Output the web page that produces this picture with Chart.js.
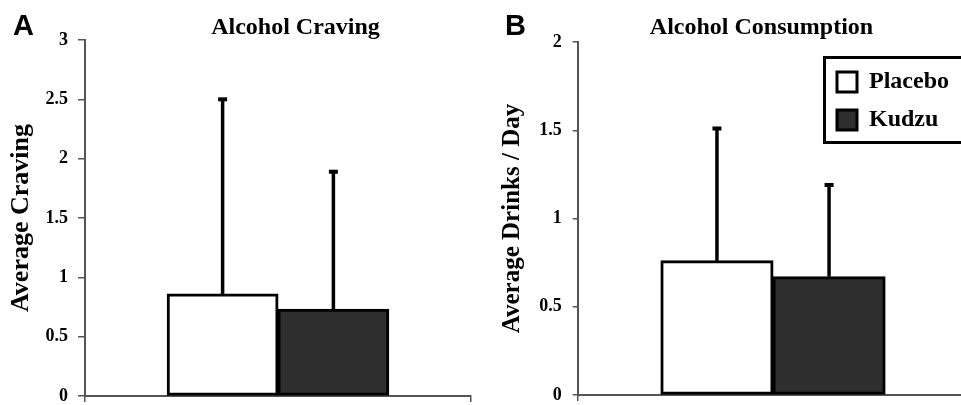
<!DOCTYPE html>
<html>
<head>
<meta charset="utf-8">
<script src="https://cdn.jsdelivr.net/npm/chart.js"></script>
<style>
  html, body { margin: 0; padding: 0; background: #fff; overflow: hidden; }
  body { width: 961px; height: 405px; position: relative; }
  canvas { position: absolute; top: 0; }
  #craving { left: 0; }
  #drinks { left: 480px; }
</style>
</head>
<body>
<canvas id="craving" width="591" height="405"></canvas>
<canvas id="drinks" width="563" height="405"></canvas>
<script>
// values (mean and upper SD bar)
const categories = [''];
const groups = ['Placebo', 'Kudzu'];
const groupFill = ['#ffffff', '#2e2e2e'];

const cravingMean = [0.86, 0.73];
const cravingSD = [1.64, 1.16];
const cravingTicks = [0, 0.5, 1, 1.5, 2, 2.5, 3];

const drinksMean = [0.76, 0.67];
const drinksSD = [0.75, 0.52];
const drinksTicks = [0, 0.5, 1, 1.5, 2];

const serif = '"Liberation Serif", "Times New Roman", serif';
const axisGray = '#555';

Chart.defaults.font.family = serif;
Chart.defaults.font.weight = 'bold';
Chart.defaults.color = '#000';

// only the upper half of the error bar is shown
const errorBars = {
  id: 'errorBars',
  afterDatasetsDraw(chart) {
    const ctx = chart.ctx, y = chart.scales.y;
    chart.data.datasets.forEach((ds, i) => {
      chart.getDatasetMeta(i).data.forEach((bar, j) => {
        const top = y.getPixelForValue(ds.data[j] + ds.sd[j]);
        ctx.save();
        ctx.strokeStyle = '#000';
        ctx.lineWidth = 3.5;
        ctx.beginPath();
        ctx.moveTo(bar.x, bar.y);
        ctx.lineTo(bar.x, top);
        ctx.stroke();
        ctx.fillStyle = '#000';
        ctx.fillRect(bar.x - 4.5, top - 2, 9, 4);
        ctx.restore();
      });
    });
  }
};

const panelLetter = {
  id: 'panelLetter',
  afterDraw(chart, args, opts) {
    const ctx = chart.ctx;
    ctx.save();
    ctx.font = 'bold 29px "Liberation Sans", Arial, sans-serif';
    ctx.fillStyle = '#000';
    ctx.textBaseline = 'alphabetic';
    ctx.fillText(opts.text, opts.x, opts.y);
    ctx.restore();
  }
};

// move the legend into the top right corner and frame it
const legendBox = {
  id: 'legendBox',
  afterLayout(chart, args, opts) {
    const lg = chart.legend, ca = chart.chartArea;
    if (!lg || !lg.options.display) return;
    lg.left = ca.right - opts.fromRight;
    lg.top = ca.top + opts.fromTop;
    lg.width = 400;
    lg.height = 200;
    lg.right = lg.left + 400;
    lg.bottom = lg.top + 200;
  },
  afterDraw(chart, args, opts) {
    const lg = chart.legend;
    if (!lg || !lg.options.display) return;
    const ctx = chart.ctx;
    ctx.save();
    ctx.strokeStyle = '#000';
    ctx.lineWidth = 3;
    ctx.strokeRect(lg.left + 1.5, lg.top + 1.5, 300, opts.h);
    ctx.restore();
  }
};

function makePanel(id, p) {
  const datasets = groups.map((g, i) => ({
    label: g,
    data: [p.mean[i]],
    sd: [p.sd[i]],
    backgroundColor: groupFill[i],
    borderColor: '#000',
    borderWidth: 3,
    borderSkipped: false,
    inflateAmount: 0.5,
    barPercentage: 1,
    categoryPercentage: 0.574
  }));

  return new Chart(document.getElementById(id), {
    type: 'bar',
    data: { labels: categories, datasets: datasets },
    options: {
      responsive: false,
      animation: false,
      events: [],
      layout: { padding: 0 },
      plugins: {
        title: {
          display: true,
          text: p.title,
          color: '#000',
          font: { size: 24, weight: 'bold', lineHeight: 1 },
          padding: { top: 16, bottom: p.titleBottom }
        },
        legend: {
          display: p.legend,
          position: 'chartArea',
          align: 'start',
          labels: {
            boxWidth: 20,
            boxHeight: 20,
            padding: 14,
            color: '#000',
            font: { size: 24, weight: 'bold' }
          }
        },
        legendBox: { fromRight: 145.3, fromTop: 14, h: 85 },
        tooltip: { enabled: false },
        panelLetter: { text: p.letter, x: p.letterX, y: 35 }
      },
      scales: {
        x: {
          type: 'category',
          offset: true,
          ticks: { display: false },
          grid: { drawOnChartArea: false, offset: true, tickLength: 6, color: axisGray, lineWidth: 1.5 },
          border: { color: axisGray, width: 2 },
          afterFit(s) { s.height = p.xHeight; }
        },
        y: {
          min: 0,
          max: p.ticks[p.ticks.length - 1],
          afterBuildTicks(s) { s.ticks = p.ticks.map(v => ({ value: v })); },
          ticks: {
            color: '#000',
            padding: p.tickPad,
            font: { size: 18, weight: 'bold' },
            callback: v => String(v)
          },
          grid: { drawOnChartArea: false, tickLength: p.tickLen, color: axisGray, lineWidth: 1.5 },
          border: { color: axisGray, width: 2 },
          title: {
            display: true,
            text: p.yTitle,
            color: '#000',
            font: { size: p.yTitleSize, weight: 'bold' },
            padding: { top: p.yTitlePad, bottom: 0 }
          },
          afterFit(s) {
            s.width = p.yWidth;
            s.paddingTop = 0;
            s.paddingBottom = 0;
          }
        },
        // empty right-hand box, keeps the plot area narrower than the title line
        spacer: {
          type: 'linear',
          position: 'right',
          grid: { display: false },
          border: { display: false },
          ticks: { display: false },
          afterFit(s) { s.width = p.rightGap; }
        }
      }
    },
    plugins: p.legend ? [errorBars, panelLetter, legendBox] : [errorBars, panelLetter]
  });
}

makePanel('craving', {
  title: 'Alcohol Craving',
  yTitle: 'Average Craving',
  yTitleSize: 26, yTitlePad: 5.5,
  letter: 'A', letterX: 13,
  mean: cravingMean, sd: cravingSD, ticks: cravingTicks,
  yWidth: 85, rightGap: 120,
  tickLen: 7, tickPad: 10,
  titleBottom: 0, xHeight: 9,
  legend: false
});

makePanel('drinks', {
  title: 'Alcohol Consumption',
  yTitle: 'Average Drinks / Day',
  yTitleSize: 25, yTitlePad: 18,
  letter: 'B', letterX: 25,
  mean: drinksMean, sd: drinksSD, ticks: drinksTicks,
  yWidth: 97.7, rightGap: 74.7,
  tickLen: 5, tickPad: 11,
  titleBottom: 2, xHeight: 10,
  legend: true
});
</script>
</body>
</html>
